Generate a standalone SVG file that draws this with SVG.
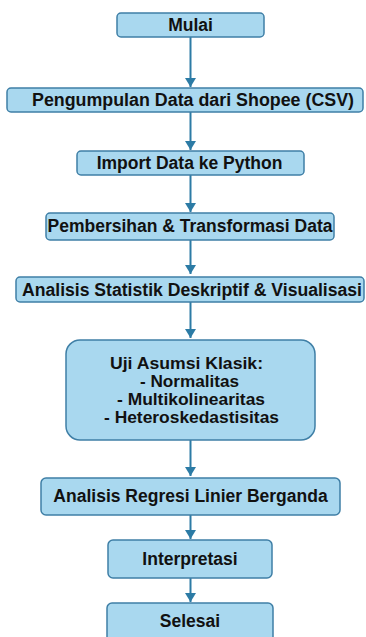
<svg xmlns="http://www.w3.org/2000/svg" width="366" height="637" viewBox="0 0 366 637">
<defs>
<style>
.box{fill:#a9d8ef;stroke:#3f7fa6;stroke-width:1.5}
.t{font-family:"Liberation Sans",Arial,Helvetica,sans-serif;font-weight:bold;font-size:17.5px;fill:#111;text-anchor:middle}
.m{font-size:16px}
.c{stroke:#2c7ba5;stroke-width:2;fill:none;marker-end:url(#ah)}
</style>
<marker id="ah" markerUnits="userSpaceOnUse" markerWidth="10" markerHeight="12" refX="9" refY="5.5" orient="auto" viewBox="0 0 10 11">
<path d="M0,0 L9,5.5 L0,11 z" fill="#2c7ba5"/>
</marker>
</defs>
<rect width="366" height="637" fill="#ffffff"/>
<g id="connectors">
<line class="c" x1="190.5" y1="37" x2="190.5" y2="87"/>
<line class="c" x1="190.5" y1="112" x2="190.5" y2="150"/>
<line class="c" x1="190.5" y1="175" x2="190.5" y2="212"/>
<line class="c" x1="190.5" y1="240" x2="190.5" y2="274"/>
<line class="c" x1="190.5" y1="302" x2="190.5" y2="338"/>
<line class="c" x1="190.5" y1="440" x2="190.5" y2="476"/>
<line class="c" x1="190.5" y1="515" x2="190.5" y2="539"/>
<line class="c" x1="190.5" y1="578" x2="190.5" y2="602"/>
</g>
<g id="mulai"><rect class="box" x="117" y="13" width="147" height="24" rx="4"/><text class="t" x="190.5" y="31">Mulai</text></g>
<g id="pengumpulan"><rect class="box" x="7" y="88" width="356" height="24" rx="4"/><text class="t" x="193" y="106" textLength="322" lengthAdjust="spacingAndGlyphs">Pengumpulan Data dari Shopee (CSV)</text></g>
<g id="import"><rect class="box" x="77" y="151" width="227" height="24" rx="4"/><text class="t" x="189.5" y="169">Import Data ke Python</text></g>
<g id="pembersihan"><rect class="box" x="46" y="213" width="288" height="27" rx="4"/><text class="t" x="190" y="232">Pembersihan &amp; Transformasi Data</text></g>
<g id="analisis-statistik"><rect class="box" x="16" y="277" width="348" height="25" rx="4"/><text class="t" x="192" y="295.5" textLength="340" lengthAdjust="spacingAndGlyphs">Analisis Statistik Deskriptif &amp; Visualisasi</text></g>
<g id="uji-asumsi"><rect class="box" x="66" y="340" width="249" height="100" rx="14"/>
<text class="t m" x="186.5" y="368.5" textLength="153" lengthAdjust="spacingAndGlyphs">Uji Asumsi Klasik:</text>
<text class="t m" x="189.5" y="386.8" textLength="99" lengthAdjust="spacingAndGlyphs">- Normalitas</text>
<text class="t m" x="191" y="405.1" textLength="148" lengthAdjust="spacingAndGlyphs">- Multikolinearitas</text>
<text class="t m" x="191.5" y="423.4" textLength="175" lengthAdjust="spacingAndGlyphs">- Heteroskedastisitas</text></g>
<g id="regresi"><rect class="box" x="41" y="478" width="299" height="37" rx="5"/><text class="t" x="190.5" y="502">Analisis Regresi Linier Berganda</text></g>
<g id="interpretasi"><rect class="box" x="108" y="540" width="164" height="38" rx="5"/><text class="t" x="190" y="565">Interpretasi</text></g>
<g id="selesai"><rect class="box" x="107" y="603" width="166" height="40" rx="5"/><text class="t" x="190" y="627">Selesai</text></g>
</svg>
